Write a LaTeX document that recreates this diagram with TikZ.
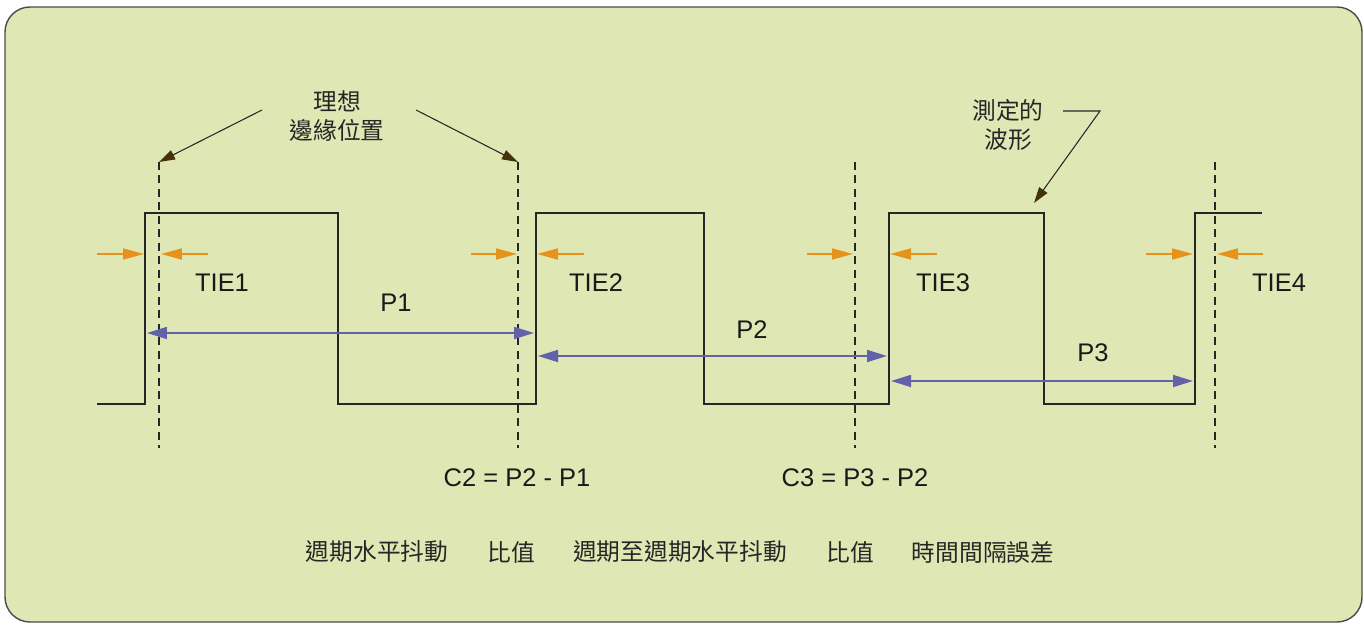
\documentclass[tikz,border=0pt]{standalone}
\usepackage{fontspec}
\setmainfont{Liberation Sans}
\newfontfamily\cjk{Noto Sans CJK TC}
\usetikzlibrary{arrows.meta}
\definecolor{panel}{RGB}{223,232,180}
\definecolor{tieorange}{RGB}{232,146,30}
\definecolor{perblue}{RGB}{98,98,170}
\definecolor{pointer}{RGB}{70,50,10}
\begin{document}
\begin{tikzpicture}[x=0.02cm,y=-0.02cm]
\tikzset{wave/.style={line width=1.6pt,black!85,line join=miter}}
\tikzstyle{ideal}=[line width=1pt,black!85,dash pattern=on 0.16cm off 0.11cm]
\tikzstyle{tie}=[-{Triangle[length=0.42cm,width=0.22cm]},tieorange,line width=1pt]
\tikzstyle{per}=[{Triangle[length=0.4cm,width=0.24cm]}-{Triangle[length=0.4cm,width=0.24cm]},perblue,line width=1pt]
\tikzstyle{pnt}=[-{Triangle[length=0.32cm,width=0.2cm,color=pointer]},black!85,line width=0.6pt]
\tikzstyle{lbl}=[font=\fontsize{14.5}{16}\selectfont,text=black!90,inner sep=0pt]
\tikzstyle{cjklbl}=[font=\cjk\fontsize{13.5}{17}\selectfont,text=black!85,align=center,inner sep=0pt]
\useasboundingbox (0,0) rectangle (1364,625);
\draw[fill=panel,draw=black!70,line width=0.8pt,rounded corners=0.5cm] (5,7) rectangle (1362,622);
% measured waveform
\draw[wave] (97,404) -- (145,404) -- (145,213) -- (338,213) -- (338,404) -- (536,404) -- (536,213)
  -- (704,213) -- (704,404) -- (889,404) -- (889,213) -- (1044,213) -- (1044,404) -- (1195,404)
  -- (1195,213) -- (1262,213);
% ideal edges
\coordinate (e1)at(159,162);
\coordinate (e2)at(518,162);
\coordinate (e3)at(855,162);
\coordinate (e4)at(1215,162);
\draw[ideal] (e1)--(159,448);
\draw[ideal] (e2)--(518,448);
\draw[ideal] (e3)--(855,448);
\draw[ideal] (e4)--(1215,448);
% TIE arrows
\coordinate (a1)at(97,254);  \coordinate (b1)at(144,254);
\coordinate (c1)at(208,254); \coordinate (d1)at(161,254);
\coordinate (a2)at(471,254); \coordinate (b2)at(517,254);
\coordinate (c2)at(584,254); \coordinate (d2)at(537,254);
\coordinate (a3)at(807,254); \coordinate (b3)at(853,254);
\coordinate (c3)at(937,254); \coordinate (d3)at(890,254);
\coordinate (a4)at(1146,254);\coordinate (b4)at(1193,254);
\coordinate (c4)at(1263,254);\coordinate (d4)at(1217,254);
\draw[tie] (a1)--(b1);
\draw[tie] (c1)--(d1);
\draw[tie] (a2)--(b2);
\draw[tie] (c2)--(d2);
\draw[tie] (a3)--(b3);
\draw[tie] (c3)--(d3);
\draw[tie] (a4)--(b4);
\draw[tie] (c4)--(d4);
\node[lbl] (tie1)at(222,283){TIE1};
\node[lbl] (tie2)at(596,283){TIE2};
\node[lbl] (tie3)at(943,283){TIE3};
\node[lbl] (tie4)at(1279,283){TIE4};
% periods
\coordinate (p1l)at(147,333); \coordinate (p1r)at(534,333);
\coordinate (p2l)at(538,356); \coordinate (p2r)at(887,356);
\coordinate (p3l)at(891,381); \coordinate (p3r)at(1193,381);
\draw[per] (p1l)--(p1r);
\draw[per] (p2l)--(p2r);
\draw[per] (p3l)--(p3r);
\node[lbl] (p1)at(396,303){P1};
\node[lbl] (p2)at(752,330){P2};
\node[lbl] (p3)at(1093,353){P3};
% callouts
\node[cjklbl] (ideal)at(337,116){理想\\邊緣位置};
\coordinate (i1)at(262,110);
\coordinate (i2)at(416,110);
\draw[pnt] (i1)--(e1);
\draw[pnt] (i2)--(e2);
\node[cjklbl] (meas)at(1008,125){測定的\\波形};
\coordinate (m1)at(1063,111);
\coordinate (m2)at(1100,111);
\coordinate (m3)at(1034,203);
\draw[pnt] (m1)--(m2)--(m3);
% differences
\node[lbl] (cc2)at(517,478){C2 = P2 - P1};
\node[lbl] (cc3)at(855,478){C3 = P3 - P2};
% legend
\node[cjklbl] (q1)at(377,552){週期水平抖動};
\node[cjklbl] (q2)at(511,552){比值};
\node[cjklbl] (q3)at(680,552){週期至週期水平抖動};
\node[cjklbl] (q4)at(850,552){比值};
\node[cjklbl] (q5)at(983,552){時間間隔誤差};
\end{tikzpicture}
\end{document}
